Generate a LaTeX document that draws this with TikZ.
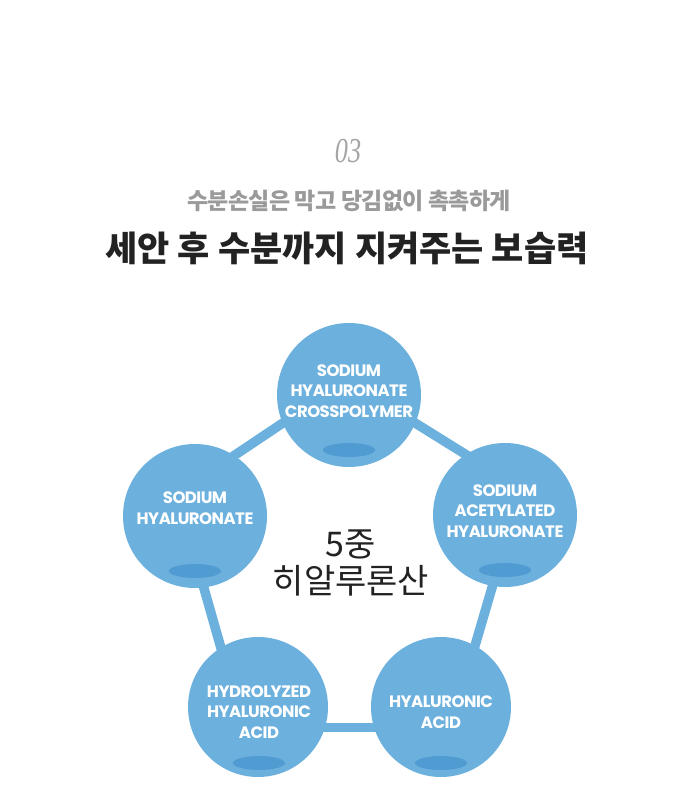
\documentclass[tikz,border=0pt]{standalone}
\usepackage{fontspec}
\usetikzlibrary{shapes.geometric}
\newfontfamily\krfont{Noto Sans CJK KR}
\newfontfamily\krsub{Noto Sans CJK KR}[LetterSpace=-3]
\newfontfamily\capfont{Poppins}[LetterSpace=-3]
\newfontfamily\numfont{Liberation Serif}
\definecolor{hablue}{HTML}{6CB0DD}
\definecolor{hadrop}{HTML}{509BD2}
\definecolor{subgray}{HTML}{9A9A9A}
\definecolor{numgray}{HTML}{A5A5A5}
\definecolor{ink}{HTML}{222222}
\begin{document}
\begin{tikzpicture}[x=1pt, y=-1pt,
  circ/.style={circle, fill=hablue, minimum size=144pt, inner sep=0pt},
  drop/.style={ellipse, fill=hadrop, minimum width=52pt, minimum height=14pt, inner sep=0pt},
  bar/.style={draw=hablue, line width=9.5pt, shorten <=-4pt, shorten >=-4pt},
  lbl/.style={text=white, align=center, font=\capfont\bfseries\fontsize{16.5}{20.5}\selectfont}]
\useasboundingbox (0,0) rectangle (700,803);
% headings
\node[text=numgray, font=\numfont\itshape\fontsize{35}{35}\selectfont] (num) at (348,151) {\scalebox{.75}[1]{03}};
\node[text=subgray, font=\krsub\bfseries\fontsize{23}{23}\selectfont] (sub) at (349,201) {수분손실은 막고 당김없이 촉촉하게};
\node[text=ink, font=\krfont\bfseries\fontsize{35}{35}\selectfont] (title) at (347,248) {세안 후 수분까지 지켜주는 보습력};
% five circles
\node[circ] (shcp) at (349,395){};
\node[circ] (sh) at (195,516){};
\node[circ] (sah) at (505,515){};
\node[circ, minimum size=140pt] (hha) at (258,707){};
\node[circ, minimum size=140pt] (ha) at (441,707){};
\draw[bar] (sh.57) -- (shcp.203);
\draw[bar] (shcp.-23) -- (sah.123);
\draw[bar] (sah.260) -- (ha.61);
\draw[bar] (ha.197) -- (hha.-17);
\draw[bar] (hha.122) -- (sh.-83);
\node[drop] (shcp-d) at (349,450){};
\node[drop] (sh-d) at (195,571){};
\node[drop] (sah-d) at (505,570){};
\node[drop] (hha-d) at (259,763){};
\node[drop] (ha-d) at (441,763){};
\node[lbl] (shcp-t) at (349,391) {SODIUM\\HYALURONATE\\CROSSPOLYMER};
\node[lbl] (sh-t) at (195,508) {SODIUM\\HYALURONATE};
\node[lbl] (sah-t) at (505,511) {SODIUM\\ACETYLATED\\HYALURONATE};
\node[lbl] (hha-t) at (259,712) {HYDROLYZED\\HYALURONIC\\ACID};
\node[lbl] (ha-t) at (441,712) {HYALURONIC\\ACID};
\node[text=ink, align=center, font=\krfont\fontsize{34}{37}\selectfont] (core) at (351,563) {5중\\히알루론산};
\end{tikzpicture}
\end{document}
